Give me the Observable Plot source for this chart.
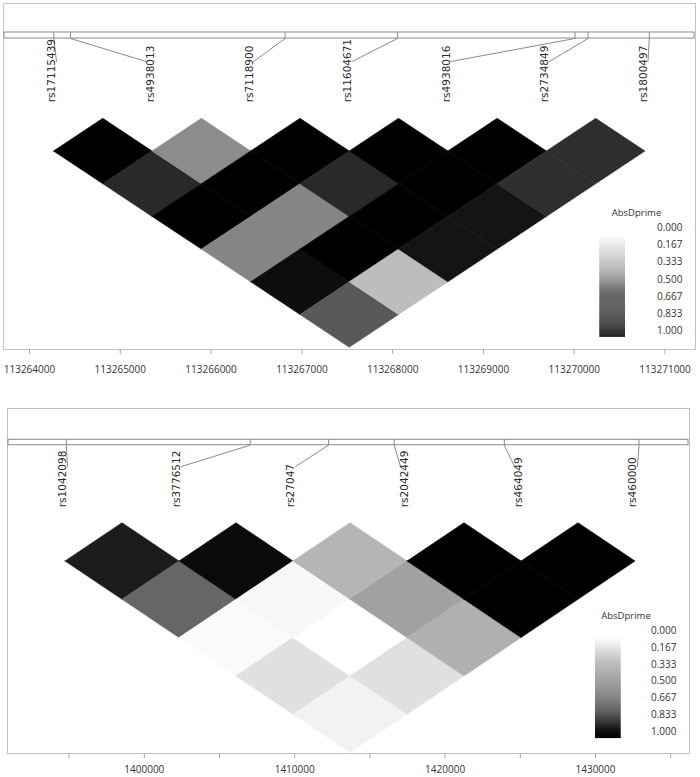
<!DOCTYPE html>
<html><head><meta charset="utf-8">
<script src="https://cdn.jsdelivr.net/npm/d3@7"></script>
<script src="https://cdn.jsdelivr.net/npm/@observablehq/plot@0.6"></script>
<style>
body{margin:0;background:#fff;}
#chart{width:700px;}
#chart svg{display:block;}
</style></head><body><div id="chart"></div>
<script>
// ---------- Panel 1 (chr11) ----------
const snpNames1 = ["rs17115439","rs4938013","rs7118900","rs11604671","rs4938016","rs2734849","rs1800497"];
const snpPos1 = [113264268,113264452,113266815,113268052,113270008,113270151,113270826];
// |D'| for SNP i with SNP j = i+1 ... n-1
const dprime1 = [
  [1.00, 0.84, 1.00, 0.48, 0.95, 0.65],
  [0.45, 1.00, 0.48, 1.00, 0.26],
  [1.00, 0.84, 1.00, 0.92],
  [1.00, 1.00, 0.92],
  [1.00, 0.82],
  [0.82]
];
const xTicks1 = [113264000,113265000,113266000,113267000,113268000,113269000,113270000,113271000];

// ---------- Panel 2 (chr5) ----------
const snpNames2 = ["rs1042098","rs3776512","rs27047","rs2042449","rs464049","rs460000"];
const snpPos2 = [1394814,1407041,1412247,1416616,1423936,1432892];
const dprime2 = [
  [0.89, 0.60, 0.02, 0.12, 0.05],
  [0.96, 0.03, 0.00, 0.12],
  [0.29, 0.37, 0.31],
  [1.00, 1.00],
  [1.00]
];
const xTicks2 = [1395000,1400000,1405000,1410000,1415000,1420000,1425000,1430000,1435000];

const legendTitle = "AbsDprime";
const legendTicks = [0, 0.167, 0.333, 0.5, 0.667, 0.833, 1];

// ---------- layout ----------
const W = 700;
const layout1 = {height: 405, mT: 3, mB: 56, mL: 3, mR: 5, domain: [113263714, 113271335], tickPadding: 11.5,
  barTop: 32, barBot: 38, leadEnd: 61, labelBottom: 101.7, labelShift: -2,
  hmLeft: 53.5, hmStep: 98.58, hmTop: 118.3, hmHalf: 32.7,
  leg: {titleX: 636, titleY: 212, labX: 682, labY0: 227.3, labDy: 17.23, gx1: 599.3, gx2: 625, gy1: 235, gy2: 336.7},
  tickFormat: d => String(d)};
const layout2 = {height: 372, mT: 3, mB: 24, mL: 7, mR: 11, domain: [1390904, 1436250], tickPadding: 7.5,
  barTop: 34.3, barBot: 39.7, leadEnd: 61, labelBottom: 101.7, labelShift: -2.5,
  hmLeft: 65, hmStep: 114, hmTop: 117.7, hmHalf: 38.3,
  leg: {titleX: 625.5, titleY: 210, labX: 676, labY0: 225, labDy: 16.92, gx1: 595, gx2: 620.7, gy1: 231.7, gy2: 333},
  tickFormat: d => d % 10000 === 0 ? String(d) : ""};

function panel(names, pos, dp, ticks, L) {
  const g2px = d3.scaleLinear(L.domain, [L.mL, W - L.mR]);
  const px2g = g2px.invert;
  const hmX = i => L.hmLeft + i * L.hmStep;
  const hw = L.hmStep / 2;

  const cells = [];
  dp.forEach((row, i) => row.forEach((v, k) => cells.push({i, j: i + 1 + k, v})));
  const pts = cells.flatMap(c => {
    const cx = (hmX(c.i) + hmX(c.j)) / 2, cy = L.hmTop + (c.j - c.i) * L.hmHalf;
    const id = c.i + "-" + c.j;
    return [
      {id, v: c.v, x: px2g(cx - hw), y1: cy, y2: cy},
      {id, v: c.v, x: px2g(cx), y1: cy - L.hmHalf, y2: cy + L.hmHalf},
      {id, v: c.v, x: px2g(cx + hw), y1: cy, y2: cy}
    ];
  });

  const snps = names.map((name, i) => {
    const lpx = hmX(i) + L.labelShift;
    const bpx = g2px(pos[i]);
    const epx = lpx + 4.5 * Math.sign(bpx - lpx);
    return {name, pos: pos[i], lx: px2g(lpx), ex: px2g(epx)};
  });
  const leaders = snps.flatMap(s => [
    {name: s.name, x: s.pos, y: L.barTop},
    {name: s.name, x: s.pos, y: L.barBot},
    {name: s.name, x: s.ex, y: L.leadEnd}
  ]);

  const G = L.leg;
  const steps = d3.range(0, 100).map(k => k / 100);
  const gy = t => G.gy1 + t * (G.gy2 - G.gy1);

  return Plot.plot({
    width: W, height: L.height,
    marginTop: L.mT, marginBottom: L.mB, marginLeft: L.mL, marginRight: L.mR,
    x: {domain: L.domain, axis: null},
    y: {domain: [L.mT, L.height - L.mB], range: [L.mT, L.height - L.mB], axis: null},
    color: {type: "linear", domain: [0, 1], range: ["#ffffff", "#000000"]},
    style: {fontFamily: "'Open Sans', sans-serif", fontSize: "10px", background: "white", color: "#333", overflow: "visible"},
    marks: [
      Plot.frame({stroke: "#c2c2c2"}),
      Plot.rect([0], {x1: () => L.domain[0], x2: () => L.domain[1], y1: () => L.barTop, y2: () => L.barBot,
        fill: "white", stroke: "#8a8a8a", insetLeft: 1, insetRight: 1}),
      Plot.line(leaders, {x: "x", y: "y", z: "name", stroke: "#8a8a8a", strokeWidth: 1}),
      Plot.text(snps, {x: "lx", y: () => L.labelBottom, text: "name", rotate: -90, textAnchor: "start",
        lineAnchor: "middle", fontFamily: "'DejaVu Sans', sans-serif", fontSize: 10.5, fill: "#2a2a2a"}),
      Plot.areaY(pts, {x: "x", y1: "y1", y2: "y2", z: "id", fill: "v", stroke: "v", strokeWidth: 0.6, curve: "linear"}),
      // legend
      Plot.rect(steps, {x1: () => px2g(G.gx1), x2: () => px2g(G.gx2), y1: t => gy(t), y2: t => gy(t + 0.011), fill: t => t + 0.005}),
      Plot.text([legendTitle], {x: () => px2g(G.titleX), y: () => G.titleY, text: d => d, fontSize: 9.5, fill: "#333", lineAnchor: "middle"}),
      Plot.text(legendTicks, {x: () => px2g(G.labX), y: (d, i) => G.labY0 + i * G.labDy, text: d3.format(".3f"),
        textAnchor: "end", lineAnchor: "middle", fill: "#333"}),
      Plot.axisX({ticks, tickFormat: L.tickFormat, tickSize: 5, tickPadding: L.tickPadding, stroke: "#a8a8a8", fill: "#333", anchor: "bottom"})
    ]
  });
}

const chart = document.getElementById("chart");
chart.appendChild(panel(snpNames1, snpPos1, dprime1, xTicks1, layout1));
chart.appendChild(panel(snpNames2, snpPos2, dprime2, xTicks2, layout2));
</script></body></html>
